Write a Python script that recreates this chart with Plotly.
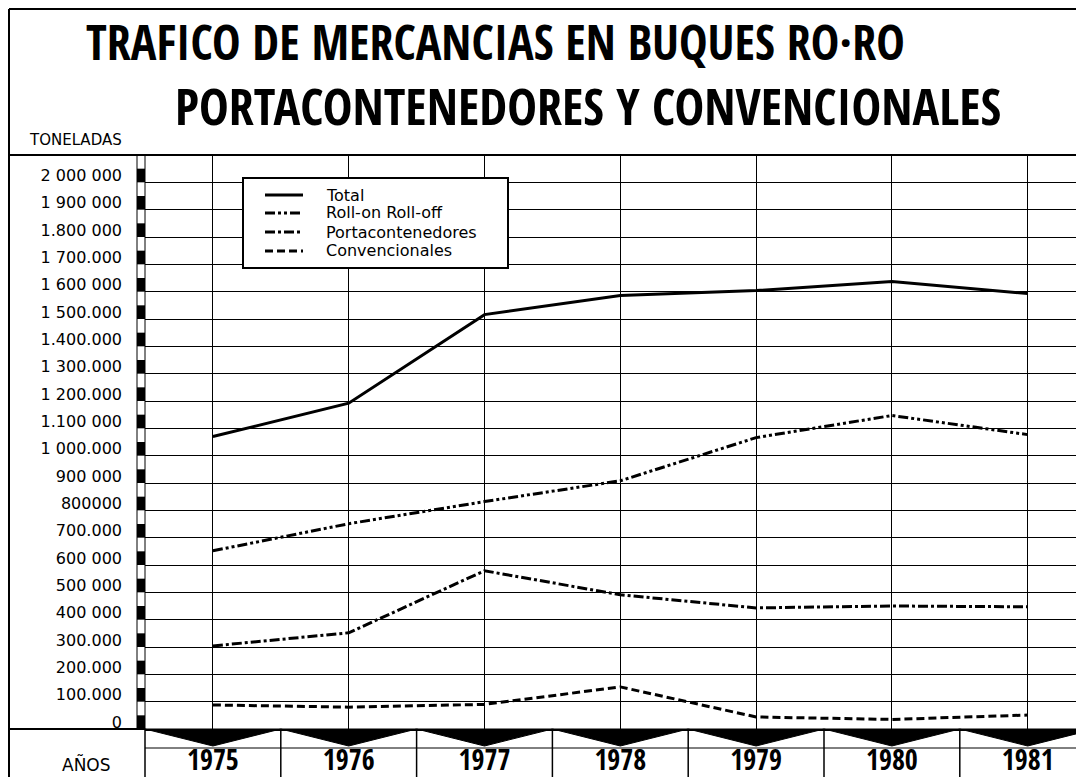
import plotly.graph_objects as go

years = [1975, 1976, 1977, 1978, 1979, 1980, 1981]
year_labels = ["1975", "1976", "1977", "1978", "1979", "1980", "1981"]
total = [1070000, 1192000, 1516000, 1586000, 1604000, 1637000, 1593000]
roll_on_roll_off = [652000, 751000, 832000, 908000, 1066000, 1147000, 1077000]
portacontenedores = [304000, 352000, 579000, 491000, 443000, 450000, 447000]
convencionales = [88000, 80000, 90000, 154000, 44000, 35000, 51000]

y_tick_vals = [2000000, 1900000, 1800000, 1700000, 1600000, 1500000, 1400000,
               1300000, 1200000, 1100000, 1000000, 900000, 800000, 700000,
               600000, 500000, 400000, 300000, 200000, 100000, 0]
y_tick_text = ["2 000 000", "1 900 000", "1.800 000", "1 700.000", "1 600 000",
               "1 500.000", "1.400.000", "1 300.000", "1 200.000", "1.100 000",
               "1 000.000", "900 000", "800000", "700.000", "600 000",
               "500 000", "400 000", "300.000", "200.000", "100.000", "0"]

series_names = ["Total", "Roll-on Roll-off", "Portacontenedores", "Convencionales"]
title_line1 = "TRAFICO DE MERCANCIAS EN BUQUES RO·RO"
title_line2 = "PORTACONTENEDORES Y CONVENCIONALES"

# the page body adds an 8px margin; work in picture pixels and convert
OFF = 8
W, H = 1084, 777
PIC_L, PIC_T, PIC_B, PIC_R = 145, 155, 729, 1084
L = PIC_L - OFF
T = PIC_T - OFF
B = H - (PIC_B - OFF)
R = W - (PIC_R - OFF)
PW, PH = W - L - R, H - T - B
XMIN = 1974.5
XMAX = XMIN + PW / 135.8
YMAX = 2100000

NARROW = "'Open Sans Condensed', 'Roboto Condensed', 'DejaVu Sans Condensed', sans-serif"
GEO = "DejaVu Sans, Verdana, sans-serif"


def px(xp):
    return (xp - PIC_L) / PW


def py(yp):
    return (PIC_B - yp) / PH


def xd(v):
    return (v - XMIN) / (XMAX - XMIN)


dashes = ["solid", "10px,3px,3px,3px,3px,3px", "10px,3px,3px,3px", "8px,4px"]
values = [total, roll_on_roll_off, portacontenedores, convencionales]

fig = go.Figure()
for name, vals, dash in zip(series_names, values, dashes):
    fig.add_trace(go.Scatter(x=years, y=vals, name=name, mode="lines", showlegend=False,
                             line=dict(color="black", width=3, dash=dash)))

shapes = []
# scale strip at the left edge of the plot
for k in range(21):
    shapes.append(dict(type="rect", xref="paper", yref="paper",
                       x0=-8 / PW, x1=0, y0=k * 100000 / YMAX, y1=(k * 100000 + 50000) / YMAX,
                       fillcolor="black", line=dict(width=0)))
shapes.append(dict(type="rect", xref="paper", yref="paper", x0=-8 / PW, x1=0, y0=0, y1=1,
                   line=dict(color="black", width=1)))
# black triangles under the axis
apex = py(746)
for yr in years:
    shapes.append(dict(type="path", xref="paper", yref="paper",
                       path=f"M {xd(yr - 0.5)},0 L {xd(yr + 0.5)},0 L {xd(yr)},{apex} Z",
                       fillcolor="black", line=dict(color="black", width=1)))
for yr in years:
    shapes.append(dict(type="line", xref="paper", yref="paper", x0=xd(yr - 0.5), x1=xd(yr - 0.5),
                       y0=0, y1=py(790), line=dict(color="black", width=1.5)))
shapes.append(dict(type="line", xref="paper", yref="paper", x0=0, x1=1, y0=py(748), y1=py(748),
                   line=dict(color="black", width=1)))
# frame
shapes.append(dict(type="line", xref="paper", yref="paper", x0=px(9), x1=1, y0=py(9), y1=py(9),
                   line=dict(color="black", width=2)))
shapes.append(dict(type="line", xref="paper", yref="paper", x0=px(9), x1=px(9), y0=py(9), y1=py(790),
                   line=dict(color="black", width=2)))
shapes.append(dict(type="line", xref="paper", yref="paper", x0=px(9), x1=1, y0=1, y1=1,
                   line=dict(color="black", width=2)))
shapes.append(dict(type="line", xref="paper", yref="paper", x0=px(9), x1=0, y0=0, y1=0,
                   line=dict(color="black", width=2)))

annotations = [
    dict(text=title_line1, xref="paper", yref="paper", x=px(495), y=py(42), showarrow=False,
         xanchor="center", yanchor="middle", font=dict(family=NARROW, size=48, color="black", weight="bold")),
    dict(text=title_line2, xref="paper", yref="paper", x=px(588), y=py(106), showarrow=False,
         xanchor="center", yanchor="middle", font=dict(family=NARROW, size=50, color="black", weight="bold")),
    dict(text="TONELADAS", xref="paper", yref="paper", x=px(75), y=py(140), showarrow=False,
         xanchor="center", yanchor="middle", font=dict(family=GEO, size=15, color="black")),
    dict(text="AÑOS", xref="paper", yref="paper", x=px(86), y=py(764), showarrow=False,
         xanchor="center", yanchor="middle", font=dict(family=GEO, size=17, color="black")),
]

# legend box drawn by hand to match the tight original layout
LEG_L, LEG_R, LEG_T, LEG_B = 243, 508, 178, 268
shapes.append(dict(type="rect", xref="paper", yref="paper", x0=px(LEG_L), x1=px(LEG_R),
                   y0=py(LEG_B), y1=py(LEG_T), fillcolor="white",
                   line=dict(color="black", width=2), layer="above"))
row_y = [195, 213, 232, 251]
for name, dash, ry in zip(series_names, dashes, row_y):
    shapes.append(dict(type="line", xref="paper", yref="paper", x0=px(265), x1=px(303),
                       y0=py(ry), y1=py(ry), layer="above",
                       line=dict(color="black", width=3, dash=dash)))
    annotations.append(dict(text=name, xref="paper", yref="paper", x=px(324), y=py(ry),
                            showarrow=False, xanchor="left", yanchor="middle",
                            font=dict(family=GEO, size=16, color="black")))

fig.update_layout(
    width=W, height=H,
    margin=dict(l=L, r=R, t=T, b=B, autoexpand=False),
    paper_bgcolor="white", plot_bgcolor="white",
    shapes=shapes, annotations=annotations, showlegend=False,
    xaxis=dict(range=[XMIN, XMAX], tickvals=years, ticktext=year_labels, automargin=False,
               showgrid=True, gridcolor="black", gridwidth=1, zeroline=False,
               showline=True, linecolor="black", linewidth=2, ticks="",
               ticklabelstandoff=5,
               tickfont=dict(family=NARROW, size=28, color="black", weight="bold")),
    yaxis=dict(range=[0, YMAX], tickvals=y_tick_vals, ticktext=y_tick_text, automargin=False,
               showgrid=True, gridcolor="black", gridwidth=1, zeroline=False,
               showline=False, ticks="", ticklabelstandoff=22, ticklabelshift=-7,
               tickfont=dict(family=GEO, size=16, color="black")),
)

fig.write_html("out.html")
